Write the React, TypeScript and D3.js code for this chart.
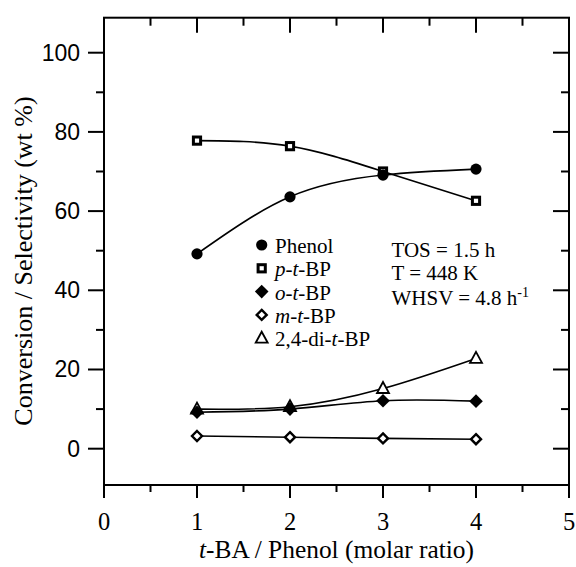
import React from "react";
import * as d3 from "d3";

const ratio = [1, 2, 3, 4];
const phenol = [49.2, 63.6, 69.1, 70.6];
const pTBP = [77.8, 76.4, 70.0, 62.6];
const oTBP = [9.2, 10.0, 12.1, 12.0];
const mTBP = [3.2, 2.9, 2.6, 2.4];
const diTBP = [10.0, 10.6, 15.2, 22.8];

const xTicks = [0, 1, 2, 3, 4, 5];
const xMinor = [0.5, 1.5, 2.5, 3.5, 4.5];
const yTicks = [0, 20, 40, 60, 80, 100];
const yMinor = [10, 30, 50, 70, 90];

const SERIF = "'Liberation Serif', 'Times New Roman', serif";
const SANS = "'Liberation Sans', Arial, sans-serif";

type Kind = "circle" | "square" | "diamondFill" | "diamondOpen" | "triangle";

function Marker({ kind, x, y }: { kind: Kind; x: number; y: number }) {
  if (kind === "circle") return <circle cx={x} cy={y} r={5.6} fill="#000" />;
  if (kind === "square")
    return <rect x={x - 3.6} y={y - 3.6} width={7.2} height={7.2} fill="#fff" stroke="#000" strokeWidth={3} />;
  if (kind === "diamondFill") {
    const s = 6.8;
    return <path d={`M${x},${y - s}L${x + s},${y}L${x},${y + s}L${x - s},${y}Z`} fill="#000" />;
  }
  if (kind === "diamondOpen") {
    const s = 5;
    return (
      <path d={`M${x},${y - s}L${x + s},${y}L${x},${y + s}L${x - s},${y}Z`} fill="#fff" stroke="#000" strokeWidth={2.4} />
    );
  }
  const h = 5.5;
  return (
    <path
      d={`M${x},${y - h - 1}L${x + h + 0.5},${y + h - 1}L${x - h - 0.5},${y + h - 1}Z`}
      fill="#fff"
      stroke="#000"
      strokeWidth={1.8}
    />
  );
}

export default function App() {
  const left = 104, right = 569, top = 17.7, bottom = 485;
  const x = d3.scaleLinear().domain([0, 5]).range([left, right]);
  const y = d3.scaleLinear().domain([-9.17, 108.84]).range([bottom, top]);

  const line = d3
    .line<number>()
    .x((_, i) => x(ratio[i]))
    .y((d) => y(d))
    .curve(d3.curveNatural);

  const series: { vals: number[]; kind: Kind }[] = [
    { vals: mTBP, kind: "diamondOpen" },
    { vals: diTBP, kind: "triangle" },
    { vals: oTBP, kind: "diamondFill" },
    { vals: pTBP, kind: "square" },
    { vals: phenol, kind: "circle" },
  ];

  const legend: { kind: Kind; label: React.ReactNode }[] = [
    { kind: "circle", label: <>Phenol</> },
    {
      kind: "square",
      label: (
        <>
          <tspan fontStyle="italic">p</tspan>-<tspan fontStyle="italic">t</tspan>-BP
        </>
      ),
    },
    {
      kind: "diamondFill",
      label: (
        <>
          <tspan fontStyle="italic">o</tspan>-<tspan fontStyle="italic">t</tspan>-BP
        </>
      ),
    },
    {
      kind: "diamondOpen",
      label: (
        <>
          <tspan fontStyle="italic">m</tspan>-<tspan fontStyle="italic">t</tspan>-BP
        </>
      ),
    },
    {
      kind: "triangle",
      label: (
        <>
          2,4-di-<tspan fontStyle="italic">t</tspan>-BP
        </>
      ),
    },
  ];

  return (
    <svg
      width={576}
      height={567}
      style={{ position: "absolute", left: 0, top: 0, background: "#fff" }}
    >
      <rect x={0} y={0} width={576} height={567} fill="#fff" />
      {/* frame */}
      <rect x={left} y={top} width={right - left} height={bottom - top} fill="none" stroke="#000" strokeWidth={2} />

      {/* x ticks */}
      {xTicks.map((t) => (
        <g key={"xt" + t}>
          <line x1={x(t)} x2={x(t)} y1={bottom} y2={bottom + 13} stroke="#000" strokeWidth={2} />
          <line x1={x(t)} x2={x(t)} y1={top} y2={top + 15} stroke="#000" strokeWidth={2} />
          <text x={x(t)} y={530} textAnchor="middle" fontFamily={SERIF} fontSize={24.5}>
            {t}
          </text>
        </g>
      ))}
      {xMinor.map((t) => (
        <g key={"xm" + t}>
          <line x1={x(t)} x2={x(t)} y1={bottom} y2={bottom + 7} stroke="#000" strokeWidth={2} />
          <line x1={x(t)} x2={x(t)} y1={top} y2={top + 8} stroke="#000" strokeWidth={2} />
        </g>
      ))}

      {/* y ticks */}
      {yTicks.map((t) => (
        <g key={"yt" + t}>
          <line x1={left - 16} x2={left} y1={y(t)} y2={y(t)} stroke="#000" strokeWidth={2} />
          <line x1={right - 16} x2={right} y1={y(t)} y2={y(t)} stroke="#000" strokeWidth={2} />
          <text x={80} y={y(t) + 8} textAnchor="end" fontFamily={SANS} fontSize={23}>
            {t}
          </text>
        </g>
      ))}
      {yMinor.map((t) => (
        <g key={"ym" + t}>
          <line x1={left - 8} x2={left} y1={y(t)} y2={y(t)} stroke="#000" strokeWidth={2} />
          <line x1={right - 8} x2={right} y1={y(t)} y2={y(t)} stroke="#000" strokeWidth={2} />
        </g>
      ))}

      {/* axis titles */}
      <text x={336.5} y={558} textAnchor="middle" fontFamily={SERIF} fontSize={25.4}>
        <tspan fontStyle="italic">t</tspan>-BA / Phenol (molar ratio)
      </text>
      <text
        transform="translate(32,261) rotate(-90)"
        textAnchor="middle"
        fontFamily={SERIF}
        fontSize={26}
      >
        Conversion / Selectivity (wt %)
      </text>

      {/* lines */}
      {series.map((s, i) => (
        <path key={"l" + i} d={line(s.vals) || ""} fill="none" stroke="#000" strokeWidth={1.6} />
      ))}
      {/* markers */}
      {series.map((s, i) =>
        s.vals.map((v, j) => <Marker key={"m" + i + "_" + j} kind={s.kind} x={x(ratio[j])} y={y(v)} />)
      )}

      {/* legend */}
      {legend.map((l, i) => (
        <g key={"lg" + i}>
          <Marker kind={l.kind} x={261.7} y={245 + i * 23.3} />
          <text x={275} y={245 + i * 23.3 + 8} fontFamily={SERIF} fontSize={21}>
            {l.label}
          </text>
        </g>
      ))}

      {/* conditions */}
      <g fontFamily={SERIF} fontSize={21}>
        <text x={391.5} y={256.7}>TOS = 1.5 h</text>
        <text x={391.5} y={280.3}>T = 448 K</text>
        <text x={391.5} y={304.5}>
          WHSV = 4.8 h<tspan fontSize={14} dy={-8}>-1</tspan>
        </text>
      </g>
    </svg>
  );
}
